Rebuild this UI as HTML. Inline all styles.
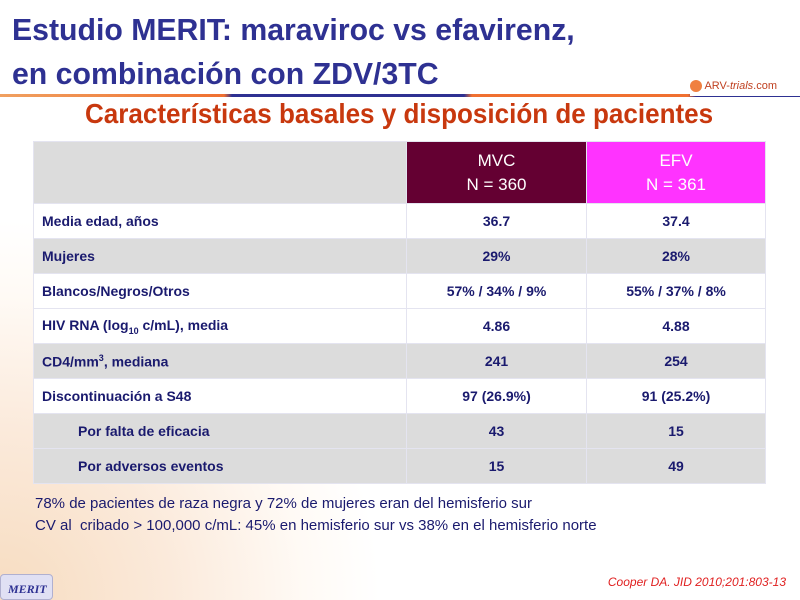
<!DOCTYPE html>
<html><head><meta charset="utf-8"><style>
*{margin:0;padding:0;box-sizing:border-box}
body{width:800px;height:600px;overflow:hidden;position:relative;font-family:"Liberation Sans",sans-serif;
background:radial-gradient(ellipse 380px 380px at 0px 600px,#f7dcc0 0%,#fbeadb 45%,#fffaf5 80%,#fff 100%);}
.t{position:absolute;left:12px;color:#2e3192;font-size:31px;font-weight:bold;white-space:nowrap;transform-origin:0 0;transform:scaleX(0.975)}
.sub{position:absolute;left:85px;top:98px;color:#c8380e;font-size:28px;font-weight:bold;white-space:nowrap;transform-origin:0 0;transform:scaleX(0.93)}
table{position:absolute;left:33px;top:141px;width:733px;border-collapse:collapse;font-size:14px;font-weight:bold;color:#1a1a6e}
td{height:35px;border:1px solid #e4e4f0;padding:0 8px}
td.c{text-align:center}
tr.g td{background:#dcdcdc}
tr.w td{background:#fff}
.note{position:absolute;left:35px;font-size:15px;color:#1a1a6e}
</style></head><body>
<div class="t" style="top:12px">Estudio MERIT: maraviroc vs efavirenz,</div>
<div class="t" style="top:56px">en combinación con ZDV/3TC</div>
<div style="position:absolute;left:0;top:94px;width:800px;height:3px;background:linear-gradient(90deg,#f0a060 0%,#f07030 28%,#2e3192 29%,#2e3192 58%,#f07030 59%,#f07030 86%,#2e3192 87%)"></div>
<div style="position:absolute;left:690px;top:80px;width:110px;height:16px;background:#fff;font-size:11px;color:#c04020"><span style="display:inline-block;width:12px;height:12px;border-radius:6px;background:#f08040;vertical-align:middle"></span> ARV-<i>trials</i>.com</div>
<div class="sub">Características basales y disposición de pacientes</div>
<table>
<tr><td style="background:#dcdcdc;width:373px;height:62px"></td><td class="c" style="background:#640032;color:#fff;font-size:17px;font-weight:normal;width:180px;line-height:24px">MVC<br>N = 360</td><td class="c" style="background:#ff33ff;color:#fff;font-size:17px;font-weight:normal;line-height:24px">EFV<br>N = 361</td></tr>
<tr class="w"><td>Media edad, años</td><td class="c">36.7</td><td class="c">37.4</td></tr>
<tr class="g"><td>Mujeres</td><td class="c">29%</td><td class="c">28%</td></tr>
<tr class="w"><td>Blancos/Negros/Otros</td><td class="c">57% / 34% / 9%</td><td class="c">55% / 37% / 8%</td></tr>
<tr class="w"><td>HIV RNA (log<sub style="font-size:9px">10</sub> c/mL), media</td><td class="c">4.86</td><td class="c">4.88</td></tr>
<tr class="g"><td>CD4/mm<sup style="font-size:9px">3</sup>, mediana</td><td class="c">241</td><td class="c">254</td></tr>
<tr class="w"><td>Discontinuación a S48</td><td class="c">97 (26.9%)</td><td class="c">91 (25.2%)</td></tr>
<tr class="g"><td style="padding-left:44px">Por falta de eficacia</td><td class="c">43</td><td class="c">15</td></tr>
<tr class="g"><td style="padding-left:44px">Por adversos eventos</td><td class="c">15</td><td class="c">49</td></tr>
</table>
<div class="note" style="top:495px">78% de pacientes de raza negra y 72% de mujeres eran del hemisferio sur</div>
<div class="note" style="top:517px">CV al&nbsp; cribado &gt; 100,000 c/mL: 45% en hemisferio sur vs 38% en el hemisferio norte</div>
<div style="position:absolute;left:0;top:574px;width:53px;height:26px;background:#e0e0f4;border:1px solid #b0b0d0;border-radius:4px;font-family:'Liberation Serif',serif;font-style:italic;font-weight:bold;font-size:12px;color:#2e3192;padding:7px 0 0 7px">MERIT</div>
<div style="position:absolute;right:14px;top:575px;font-size:12px;font-style:italic;color:#e02020">Cooper DA. JID 2010;201:803-13</div>
</body></html>
